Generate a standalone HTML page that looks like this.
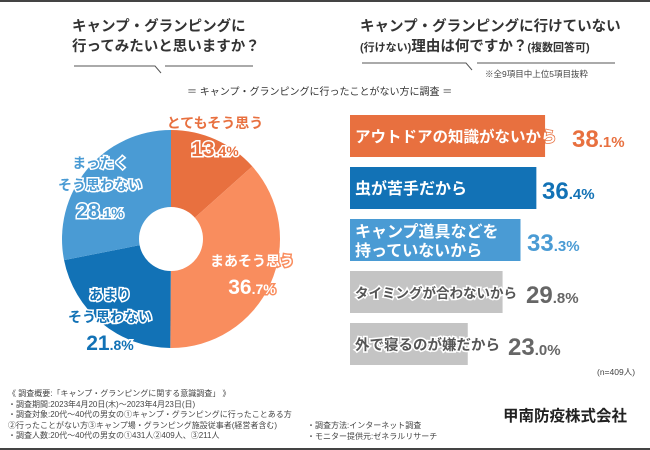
<!DOCTYPE html>
<html><head><meta charset="utf-8"><style>
body{margin:0;width:650px;height:450px;overflow:hidden;background:#fff;font-family:"Liberation Sans","Noto Sans CJK JP",sans-serif;}
#root{position:relative;width:650px;height:450px;}
.abs{position:absolute;white-space:nowrap;}
.q{font-size:14.5px;font-weight:bold;color:#333;line-height:20px;}
.note{font-size:8.5px;color:#444;line-height:11px;}
svg text{font-family:"Liberation Sans","Noto Sans CJK JP",sans-serif;font-weight:bold;}
</style></head><body><div id="root">
<div class="abs" style="left:0;top:0;width:650px;height:2px;background:#444"></div>
<div class="abs" style="left:0;top:448px;width:650px;height:2px;background:#444"></div>
<div class="abs q" style="left:72px;top:17px">キャンプ・グランピングに<br>行ってみたいと思いますか？</div>
<div class="abs q" style="left:360px;top:17px;">キャンプ・グランピングに行けていない<br><span style="font-size:11px">(行けない)</span>理由は何ですか？<span style="font-size:11px">(複数回答可)</span></div>
<svg class="abs" style="left:0;top:0" width="650" height="80">
<path d="M74 66H155L161 73M165 66H253" stroke="#555" fill="none" stroke-width="1"/>
<path d="M362 63H466L472 70M477 63H615" stroke="#555" fill="none" stroke-width="1"/>
</svg>
<div class="abs note" style="left:485px;top:69px">※全9項目中上位5項目抜粋</div>
<div class="abs" style="left:187px;top:83px;font-size:10px;color:#333">＝ キャンプ・グランピングに行ったことがない方に調査 ＝</div>
<svg id="pie" class="abs" style="left:0;top:0" width="340" height="370"></svg>
<svg id="bars" class="abs" style="left:0;top:0" width="650" height="370"></svg>
<div class="abs note" style="left:597px;top:367px">(n=409人)</div>
<div class="abs note" style="left:8px;top:389px;font-size:8px;line-height:10.5px">《 調査概要:「キャンプ・グランピングに関する意識調査」 》<br>・調査期間:2023年4月20日(木)～2023年4月23日(日)<br>・調査対象:20代～40代の男女の①キャンプ・グランピングに行ったことある方<br>②行ったことがない方③キャンプ場・グランピング施設従事者(経営者含む)<br>・調査人数:20代～40代の男女の①431人②409人、③211人</div>
<div class="abs note" style="left:307px;top:421px;font-size:8px;line-height:10.5px">・調査方法:インターネット調査<br>・モニター提供元:ゼネラルリサーチ</div>
<div class="abs" style="left:503px;top:404px;font-size:15.5px;font-weight:bold;color:#222">甲南防疫株式会社</div>
</div>
<script>
const pieLabels=["とてもそう思う","まあそう思う","あまり\nそう思わない","まったく\nそう思わない"];
const pieValues=[13.4,36.7,21.8,28.1];
const pieColors=["#E8703F","#F98D5E","#1272B6","#4A9BD4"];
const barLabels=["アウトドアの知識がないから","虫が苦手だから","キャンプ道具などを\n持っていないから","タイミングが合わないから","外で寝るのが嫌だから"];
const barValues=[38.1,36.4,33.3,29.8,23.0];
const barColors=["#E8703F","#1272B6","#4A9BD4","#C4C4C4","#C4C4C4"];
const barText=["#E8703F","#1272B6","#4A9BD4","#666","#666"];
const NS="http://www.w3.org/2000/svg";
function mk(p,t,a){const e=document.createElementNS(NS,t);for(const k in a)e.setAttribute(k,a[k]);p.appendChild(e);return e;}
const pie=document.getElementById('pie');
const cx=171,cy=239,R=109,r=32;
const tot=pieValues.reduce((a,b)=>a+b,0);
let acc=0;
const labelPos=[[215,128],[252,266],[110,300],[100,168]];
pieValues.forEach((v,i)=>{
 const a0=acc/tot*2*Math.PI-Math.PI/2;acc+=v;const a1=acc/tot*2*Math.PI-Math.PI/2;
 const lg=(a1-a0)>Math.PI?1:0;
 const d=`M${cx+R*Math.cos(a0)} ${cy+R*Math.sin(a0)}A${R} ${R} 0 ${lg} 1 ${cx+R*Math.cos(a1)} ${cy+R*Math.sin(a1)}L${cx} ${cy}Z`;
 const s=mk(pie,'path',{d:d,fill:pieColors[i]});
 
 
});
mk(pie,'circle',{cx:cx,cy:cy,r:r,fill:'#fff'});
pieValues.forEach((v,i)=>{
 const [lx,ly]=labelPos[i];const lines=pieLabels[i].split("\n");
 const light=pieColors[i]==="#F98D5E";
 lines.forEach((ln,j)=>{
  const t=mk(pie,'text',{x:lx,y:ly+j*22,'text-anchor':'middle','font-size':14,fill:light?"#fff":pieColors[i],stroke:light?pieColors[i]:"#fff",'stroke-width':3,'paint-order':'stroke'});
  t.textContent=ln;
  
  
 });
 const vs=v.toFixed(1).split('.');
 const t=mk(pie,'text',{x:lx,y:ly+lines.length*22+6,'text-anchor':'middle','font-size':21,fill:light?"#fff":pieColors[i],stroke:light?pieColors[i]:"#fff",'stroke-width':3,'paint-order':'stroke'});
 t.innerHTML=vs[0]+'<tspan font-size="14">.'+vs[1]+'%</tspan>';
 
 
});
const bars=document.getElementById('bars');
const x0=350,pxPer=5.12,y0=115,bh=42,gap=52;
const lblSize=[15.5,16,16,13.5,14.5];
const valX=[572,542,527,526,508];
barValues.forEach((v,i)=>{
 const y=y0+i*gap,w=v*pxPer;
 const b=mk(bars,'rect',{x:x0,y:y,width:w,height:bh,fill:barColors[i]});
 
 
 const lines=barLabels[i].split("\n");
 lines.forEach((ln,j)=>{
  const t=mk(bars,'text',{x:x0+5,y:y+(lines.length>1?18+j*19:27),'font-size':lblSize[i],fill:i<3?'#fff':'#555',stroke:i<3?barColors[i]:'#fff','stroke-width':i<3?1.5:3,'paint-order':'stroke'});
  t.textContent=ln;
  
  
 });
 const vs=v.toFixed(1).split('.');
 const t=mk(bars,'text',{x:valX[i],y:y+32,'font-size':24,fill:barText[i],stroke:'#fff','stroke-width':2,'paint-order':'stroke'});
 t.innerHTML=vs[0]+'<tspan font-size="15">.'+vs[1]+'%</tspan>';
 
 
});
</script>
</body></html>
